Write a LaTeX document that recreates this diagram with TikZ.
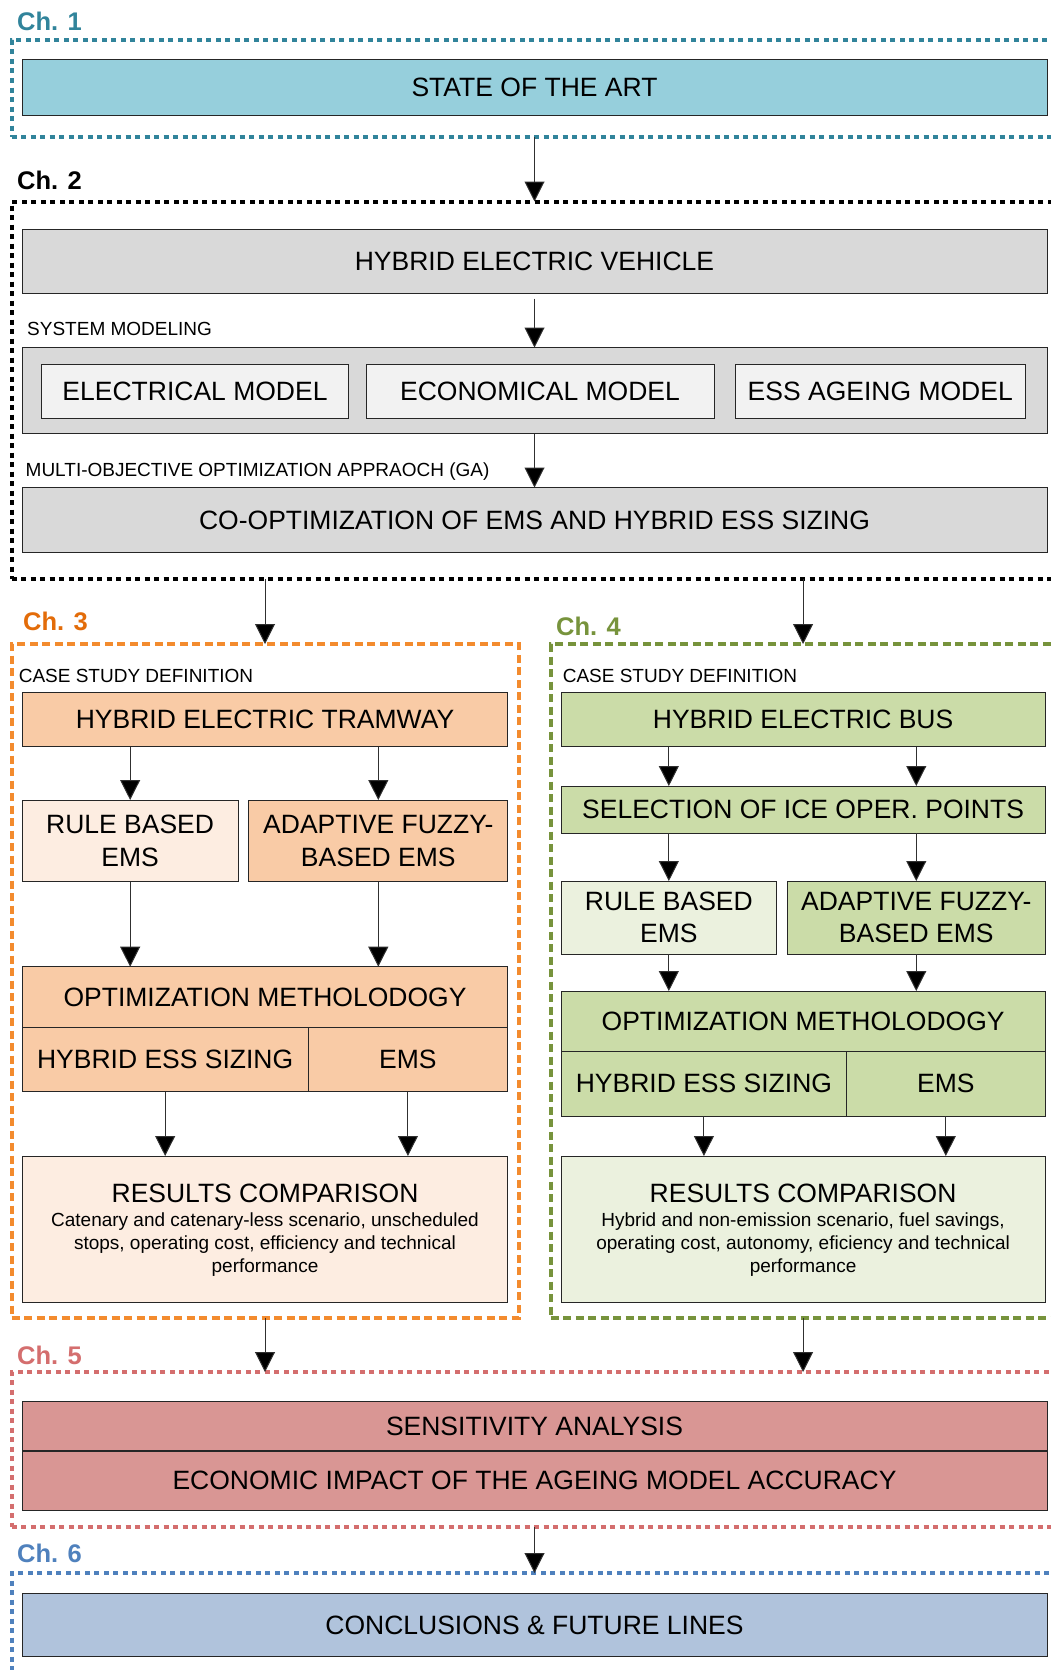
\documentclass[tikz,border=0pt]{standalone}
\usepackage{fontspec}
\setmainfont{Liberation Sans}
\usetikzlibrary{arrows.meta}

% palette
\definecolor{tealc}{HTML}{31849B}
\definecolor{statefill}{HTML}{96CFDC}
\definecolor{grayfill}{HTML}{D9D9D9}
\definecolor{innerfill}{HTML}{F2F2F2}
\definecolor{orangec}{HTML}{F38B2E}
\definecolor{orangelab}{HTML}{E36C09}
\definecolor{peach}{HTML}{F9CBA6}
\definecolor{lightpeach}{HTML}{FDEDE1}
\definecolor{greenc}{HTML}{77933C}
\definecolor{greenfill}{HTML}{CBDCA8}
\definecolor{lightgreen}{HTML}{EBF1DE}
\definecolor{rosec}{HTML}{D46E6E}
\definecolor{rosefill}{HTML}{D99694}
\definecolor{bluec}{HTML}{4F81BD}
\definecolor{bluefill}{HTML}{B0C3DC}
\definecolor{boxline}{HTML}{262626}
\definecolor{arrline}{HTML}{303030}

\newcommand\txtL{\fontsize{26.5pt}{32.5pt}\selectfont}
\newcommand\txtS{\fontsize{19pt}{23pt}\selectfont}
\newcommand\txtCh{\fontsize{25.5pt}{30pt}\selectfont\bfseries}

\begin{document}
\begin{tikzpicture}[x=1pt,y=-1pt,
  box/.style={draw=boxline, line width=1pt, inner sep=0pt, outer sep=0pt,
              font=\txtL, align=center},
  frame/.style={draw=#1, line width=4pt, inner sep=0pt, outer sep=0pt},
  dotframe/.style={frame=#1, dash pattern=on 5pt off 4.5pt},
  dashframe/.style={frame=#1, dash pattern=on 8pt off 4.5pt},
  chlabel/.style={anchor=west, inner sep=0pt, font=\txtCh, text=#1},
  note/.style={anchor=west, inner sep=0pt, font=\txtS},
  arr/.style={draw=arrline, line width=1pt, -{Triangle[length=20pt,width=20pt,fill=black]}},
]
\clip (0,0) rectangle (1051,1670);
\fill[white] (0,0) rectangle (1051,1670);

% ---------- chapter frames ----------
\node[dotframe=tealc, minimum width=1058.5pt, minimum height=96.5pt] (ch1) at (540.75,88.25) {};
\node[dotframe=black, minimum width=1058.5pt, minimum height=377.5pt] (ch2) at (540.75,390.25) {};
\node[dashframe=orangec, minimum width=507.5pt, minimum height=673.5pt] (ch3) at (265.25,980.75) {};
\node[dashframe=greenc, minimum width=519.5pt, minimum height=673.5pt] (ch4) at (810.25,980.75) {};
\node[dotframe=rosec, minimum width=1058.5pt, minimum height=155pt] (ch5) at (540.75,1449.5) {};
\node[dotframe=bluec, minimum width=1058.5pt, minimum height=127pt] (ch6) at (540.75,1636.5) {};

\node[chlabel=tealc] (lab1) at (17,21.7) {Ch. 1};
\node[chlabel=black] (lab2) at (17,180) {Ch. 2};
\node[chlabel=orangelab] (lab3) at (23,621.7) {Ch. 3};
\node[chlabel=greenc] (lab4) at (556,626.7) {Ch. 4};
\node[chlabel=rosec] (lab5) at (17,1355) {Ch. 5};
\node[chlabel=bluec] (lab6) at (17,1553.3) {Ch. 6};

% ---------- Ch. 1 ----------
\node[box, fill=statefill, minimum width=1025pt, minimum height=56pt] (state) at (534.5,87.5) {STATE OF THE ART};

% ---------- Ch. 2 ----------
\node[box, fill=grayfill, minimum width=1025pt, minimum height=64pt] (hev) at (534.5,261.5) {HYBRID ELECTRIC VEHICLE};
\node[note] (sysnote) at (27,328.5) {SYSTEM MODELING};
\node[box, fill=grayfill, minimum width=1025pt, minimum height=86pt] (sysbox) at (534.5,390.5) {};
\node[box, fill=innerfill, minimum width=307pt, minimum height=54.5pt] (elec) at (195,391.25) {ELECTRICAL MODEL};
\node[box, fill=innerfill, minimum width=348pt, minimum height=54.5pt] (econ) at (540,391.25) {ECONOMICAL MODEL};
\node[box, fill=innerfill, minimum width=290.5pt, minimum height=54.5pt] (ageing) at (880.25,391.25) {ESS AGEING MODEL};
\node[note] (moonote) at (25.5,471.5) {MULTI-OBJECTIVE OPTIMIZATION APPRAOCH (GA)};
\node[box, fill=grayfill, minimum width=1025pt, minimum height=65pt] (coopt) at (534.5,520) {CO-OPTIMIZATION OF EMS AND HYBRID ESS SIZING};

% ---------- Ch. 3 ----------
\node[note] (caseL) at (18.6,675.7) {CASE STUDY DEFINITION};
\node[box, fill=peach, minimum width=485.5pt, minimum height=54pt] (tram) at (265,719.7) {HYBRID ELECTRIC TRAMWAY};
\node[box, fill=lightpeach, minimum width=215.7pt, minimum height=81.7pt] (ruleL) at (130.15,840.85) {RULE BASED\\EMS};
\node[box, fill=peach, minimum width=259pt, minimum height=81.7pt] (adaptL) at (378.3,840.85) {ADAPTIVE FUZZY-\\BASED EMS};
\node[box, fill=peach, minimum width=485.5pt, minimum height=60.6pt] (optL) at (265,997) {OPTIMIZATION METHOLODOGY};
\node[box, fill=peach, minimum width=285.7pt, minimum height=64.4pt] (sizeL) at (165.15,1059.5) {HYBRID ESS SIZING};
\node[box, fill=peach, minimum width=199.8pt, minimum height=64.4pt] (emsL) at (407.9,1059.5) {EMS};
\node[box, fill=lightpeach, minimum width=485.5pt, minimum height=146.3pt] (resL) at (265,1229.15) {};
\node[inner sep=0pt, font=\txtL] (resLt) at (265,1193.3) {RESULTS COMPARISON};
\node[inner sep=0pt, font=\txtS, align=center] (resLd) at (265,1245) {Catenary and catenary-less scenario, unscheduled\\stops, operating cost, efficiency and technical\\performance};

% ---------- Ch. 4 ----------
\node[note] (caseR) at (562.6,675.7) {CASE STUDY DEFINITION};
\node[box, fill=greenfill, minimum width=483.8pt, minimum height=54pt] (bus) at (803.1,719.7) {HYBRID ELECTRIC BUS};
\node[box, fill=greenfill, minimum width=483.8pt, minimum height=47.3pt] (sel) at (803.1,809.65) {SELECTION OF ICE OPER. POINTS};
\node[box, fill=lightgreen, minimum width=215.3pt, minimum height=73pt] (ruleR) at (668.85,917.5) {RULE BASED\\EMS};
\node[box, fill=greenfill, minimum width=257.5pt, minimum height=73pt] (adaptR) at (916.25,917.5) {ADAPTIVE FUZZY-\\BASED EMS};
\node[box, fill=greenfill, minimum width=483.8pt, minimum height=60.7pt] (optR) at (803.1,1021.35) {OPTIMIZATION METHOLODOGY};
\node[box, fill=greenfill, minimum width=285.4pt, minimum height=64.3pt] (sizeR) at (703.9,1083.85) {HYBRID ESS SIZING};
\node[box, fill=greenfill, minimum width=198.4pt, minimum height=64.3pt] (emsR) at (945.8,1083.85) {EMS};
\node[box, fill=lightgreen, minimum width=483.8pt, minimum height=146.3pt] (resR) at (803.1,1229.15) {};
\node[inner sep=0pt, font=\txtL] (resRt) at (803.1,1193.3) {RESULTS COMPARISON};
\node[inner sep=0pt, font=\txtS, align=center] (resRd) at (803.1,1245) {Hybrid and non-emission scenario, fuel savings,\\operating cost, autonomy, eficiency and technical\\performance};

% ---------- Ch. 5 ----------
\node[box, fill=rosefill, minimum width=1025pt, minimum height=49.3pt] (sens) at (534.5,1426.35) {SENSITIVITY ANALYSIS};
\node[box, fill=rosefill, minimum width=1025pt, minimum height=59.3pt] (impact) at (534.5,1480.65) {ECONOMIC IMPACT OF THE AGEING MODEL ACCURACY};
\draw[draw=boxline, line width=2pt] (sens.south west) -- (sens.south east);

% ---------- Ch. 6 ----------
\node[box, fill=bluefill, minimum width=1025pt, minimum height=63.4pt] (concl) at (534.5,1625) {CONCLUSIONS \& FUTURE LINES};

% ---------- connectors ----------
\draw[arr] (state.south |- ch1.south) -- (state.south |- ch2.north);
\draw[arr, shorten <=5pt] (hev.south) -- (sysbox.north);
\draw[arr] (sysbox.south) -- (coopt.north);
\draw[arr] (tram.north |- ch2.south) -- (tram.north |- ch3.north);
\draw[arr] (bus.north |- ch2.south) -- (bus.north |- ch4.north);

\draw[arr] (ruleL.north |- tram.south) -- (ruleL.north);
\draw[arr] (adaptL.north |- tram.south) -- (adaptL.north);
\draw[arr] (ruleL.south) -- (ruleL.south |- optL.north);
\draw[arr] (adaptL.south) -- (adaptL.south |- optL.north);
\draw[arr] (sizeL.south) -- (sizeL.south |- resL.north);
\draw[arr] (emsL.south) -- (emsL.south |- resL.north);

\draw[arr] (ruleR.north |- bus.south) -- (ruleR.north |- sel.north);
\draw[arr] (adaptR.north |- bus.south) -- (adaptR.north |- sel.north);
\draw[arr] (ruleR.north |- sel.south) -- (ruleR.north);
\draw[arr] (adaptR.north |- sel.south) -- (adaptR.north);
\draw[arr] (ruleR.south) -- (ruleR.south |- optR.north);
\draw[arr] (adaptR.south) -- (adaptR.south |- optR.north);
\draw[arr] (sizeR.south) -- (sizeR.south |- resR.north);
\draw[arr] (emsR.south) -- (emsR.south |- resR.north);

\draw[arr] (tram.north |- ch3.south) -- (tram.north |- ch5.north);
\draw[arr] (bus.north |- ch4.south) -- (bus.north |- ch5.north);
\draw[arr] (concl.north |- ch5.south) -- (concl.north |- ch6.north);
\end{tikzpicture}
\end{document}
